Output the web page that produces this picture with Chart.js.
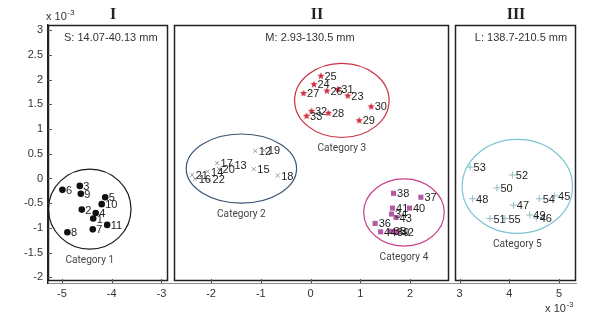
<!DOCTYPE html>
<html>
<head>
<meta charset="utf-8">
<script src="https://cdn.jsdelivr.net/npm/chart.js@4.4.1/dist/chart.umd.min.js"></script>
<style>
html, body { margin: 0; padding: 0; background: #fff; }
</style>
</head>
<body>
<canvas id="chart" width="603" height="321"></canvas>
<script>
// all values in units of 1e-3
const xTicks = [-5, -4, -3, -2, -1, 0, 1, 2, 3, 4, 5];
const yTicks = [-2, -1.5, -1, -0.5, 0, 0.5, 1, 1.5, 2, 2.5, 3];

const cat1Ids = [1, 2, 3, 4, 5, 6, 7, 8, 9, 10, 11];
const cat1X = [-4.37, -4.60, -4.64, -4.32, -4.13, -4.99, -4.38, -4.89, -4.62, -4.20, -4.09];
const cat1Y = [-0.81, -0.63, -0.15, -0.70, -0.38, -0.23, -1.03, -1.09, -0.31, -0.52, -0.94];

const cat2Ids = [12, 13, 14, 15, 16, 17, 18, 19, 20, 21, 22];
const cat2X = [-1.11, -1.60, -2.07, -1.14, -2.32, -1.88, -0.66, -0.93, -1.84, -2.38, -2.04];
const cat2Y = [0.56, 0.27, 0.14, 0.19, -0.01, 0.31, 0.06, 0.57, 0.19, 0.07, -0.02];

const cat3Ids = [23, 24, 25, 26, 27, 28, 29, 30, 31, 32, 33];
const cat3X = [0.75, 0.07, 0.21, 0.33, -0.14, 0.36, 0.98, 1.22, 0.55, 0.02, -0.08];
const cat3Y = [1.68, 1.91, 2.08, 1.78, 1.73, 1.33, 1.18, 1.46, 1.81, 1.37, 1.27];

const cat4Ids = [34, 35, 36, 37, 38, 39, 40, 41, 42, 43, 44];
const cat4X = [1.63, 1.60, 1.30, 2.22, 1.67, 1.67, 1.99, 1.65, 1.76, 1.72, 1.41];
const cat4Y = [-0.72, -1.07, -0.91, -0.38, -0.30, -1.08, -0.60, -0.60, -1.08, -0.79, -1.08];

const cat5Ids = [45, 46, 47, 48, 49, 50, 51, 52, 53, 54, 55];
const cat5X = [4.91, 4.54, 4.08, 3.26, 4.41, 3.75, 3.61, 4.06, 3.21, 4.60, 3.91];
const cat5Y = [-0.35, -0.80, -0.54, -0.41, -0.74, -0.19, -0.81, 0.07, 0.23, -0.41, -0.81];

const panelNames = ['I', 'II', 'III'];
const panelNotes = ['S: 14.07-40.13 mm', 'M: 2.93-130.5 mm', 'L: 138.7-210.5 mm'];

// layout (data units): panel boxes and group ellipses
const panelSpans = [[-5.28, -2.87], [-2.75, 2.79], [2.91, 5.34]];
const panelBottom = -2.06;
const groups = [
  { name: 'Category 1', cx: -4.44, cy: -0.62, rx: 0.83, ry: 0.81, color: '#1a1a1a' },
  { name: 'Category 2', cx: -1.39, cy: 0.20, rx: 1.11, ry: 0.70, color: '#3a5470' },
  { name: 'Category 3', cx: 0.63, cy: 1.58, rx: 0.95, ry: 0.75, color: '#c93341' },
  { name: 'Category 4', cx: 1.88, cy: -0.69, rx: 0.81, ry: 0.68, color: '#c8408a' },
  { name: 'Category 5', cx: 4.16, cy: -0.16, rx: 1.11, ry: 0.95, color: '#7cc4d2' }
];

function pts(xs, ys) {
  return xs.map((x, i) => ({ x: x, y: ys[i] }));
}

function starImage(color) {
  const c = document.createElement('canvas');
  c.width = 8; c.height = 8;
  const g = c.getContext('2d');
  g.fillStyle = color;
  g.beginPath();
  for (let i = 0; i < 10; i++) {
    const r = i % 2 === 0 ? 3.9 : 1.6;
    const a = -Math.PI / 2 + i * Math.PI / 5;
    const px = 4 + r * Math.cos(a), py = 4.3 + r * Math.sin(a);
    if (i === 0) g.moveTo(px, py); else g.lineTo(px, py);
  }
  g.closePath();
  g.fill();
  return c;
}

function superscript(ctx, x, y, align) {
  ctx.font = '8px "Liberation Sans", Arial, sans-serif';
  const supW = ctx.measureText('-3').width;
  ctx.font = '11px "Liberation Sans", Arial, sans-serif';
  const w = ctx.measureText('x 10').width;
  const left = align === 'right' ? x - w - supW : x;
  ctx.textAlign = 'left';
  ctx.textBaseline = 'middle';
  ctx.fillText('x 10', left, y);
  ctx.font = '8px "Liberation Sans", Arial, sans-serif';
  ctx.fillText('-3', left + w + 0.5, y - 4);
}

const decor = {
  id: 'decor',
  beforeDatasetsDraw(chart) {
    const ctx = chart.ctx, xs = chart.scales.x, ys = chart.scales.y, area = chart.chartArea;
    ctx.save();
    // panel boxes
    ctx.strokeStyle = '#222';
    ctx.lineWidth = 1.5;
    const yb = Math.round(ys.getPixelForValue(panelBottom));
    panelSpans.forEach(s => {
      const l = Math.round(xs.getPixelForValue(s[0]));
      const r = Math.round(xs.getPixelForValue(s[1]));
      ctx.strokeRect(l + 0.5, area.top + 0.5, r - l - 1, yb - area.top);
    });
    // ellipses and their names
    ctx.lineWidth = 1.2;
    groups.forEach(g => {
      const cx = xs.getPixelForValue(g.cx), cy = ys.getPixelForValue(g.cy);
      const rx = Math.abs(xs.getPixelForValue(g.cx + g.rx) - cx);
      const ry = Math.abs(ys.getPixelForValue(g.cy + g.ry) - cy);
      ctx.strokeStyle = g.color;
      ctx.beginPath();
      ctx.ellipse(cx, cy, rx, ry, 0, 0, Math.PI * 2);
      ctx.stroke();
      // narrow the label a little, the original uses a condensed face
      ctx.save();
      ctx.translate(cx, cy + ry + 11);
      ctx.scale(0.88, 1);
      ctx.fillStyle = '#444';
      ctx.font = '11.5px Roboto, sans-serif';
      ctx.textAlign = 'center';
      ctx.textBaseline = 'middle';
      ctx.fillText(g.name, 0, 0);
      ctx.restore();
    });
    ctx.restore();
  },
  afterDatasetsDraw(chart) {
    const ctx = chart.ctx;
    ctx.save();
    ctx.fillStyle = '#1e1e1e';
    ctx.font = '11px "Liberation Sans", Arial, sans-serif';
    ctx.textAlign = 'left';
    ctx.textBaseline = 'middle';
    chart.data.datasets.forEach((ds, di) => {
      chart.getDatasetMeta(di).data.forEach((el, i) => {
        ctx.fillText(String(ds.ids[i]), el.x + 3.5, el.y + 1);
      });
    });
    ctx.restore();
  },
  afterDraw(chart) {
    const ctx = chart.ctx, xs = chart.scales.x, ys = chart.scales.y, area = chart.chartArea;
    ctx.save();
    // tick marks pointing inward
    ctx.strokeStyle = '#555';
    ctx.lineWidth = 1;
    yTicks.forEach(v => {
      const py = Math.round(ys.getPixelForValue(v)) + 0.5;
      ctx.beginPath(); ctx.moveTo(area.left, py); ctx.lineTo(area.left + 4, py); ctx.stroke();
    });
    xTicks.forEach(v => {
      const px = Math.round(xs.getPixelForValue(v)) + 0.5;
      ctx.beginPath(); ctx.moveTo(px, area.bottom); ctx.lineTo(px, area.bottom - 4); ctx.stroke();
    });
    // panel numerals and notes
    ctx.fillStyle = '#222';
    ctx.textAlign = 'center';
    ctx.textBaseline = 'middle';
    const numX = [113, 317, 516];
    ctx.font = 'bold 16px "Liberation Serif", "Times New Roman", serif';
    panelNames.forEach((n, i) => ctx.fillText(n, numX[i], 15));
    ctx.font = '11px "Liberation Sans", Arial, sans-serif';
    ctx.fillStyle = '#333';
    ctx.textAlign = 'left';
    ctx.fillText(panelNotes[0], 64, 38);
    ctx.textAlign = 'center';
    ctx.fillText(panelNotes[1], 310, 38);
    ctx.fillText(panelNotes[2], 521, 38);
    // exponent labels
    superscript(ctx, 46, 17, 'left');
    superscript(ctx, 573, 309, 'right');
    ctx.restore();
  }
};

new Chart(document.getElementById('chart'), {
  type: 'scatter',
  data: {
    datasets: [
      { label: 'Category 1', data: pts(cat1X, cat1Y), ids: cat1Ids, pointStyle: 'circle', pointRadius: 3.3,
        backgroundColor: '#111', borderColor: '#111', borderWidth: 0 },
      { label: 'Category 2', data: pts(cat2X, cat2Y), ids: cat2Ids, pointStyle: 'crossRot', pointRadius: 2.8,
        backgroundColor: '#9a9a9a', borderColor: '#9a9a9a', borderWidth: 1 },
      { label: 'Category 3', data: pts(cat3X, cat3Y), ids: cat3Ids, pointStyle: starImage('#d12a3c'),
        backgroundColor: '#d12a3c', borderColor: '#d12a3c' },
      { label: 'Category 4', data: pts(cat4X, cat4Y), ids: cat4Ids, pointStyle: 'rect', pointRadius: 3.6,
        backgroundColor: '#b45aa5', borderColor: '#b45aa5', borderWidth: 0 },
      { label: 'Category 5', data: pts(cat5X, cat5Y), ids: cat5Ids, pointStyle: 'cross', pointRadius: 3.5,
        backgroundColor: '#8ebdc6', borderColor: '#8ebdc6', borderWidth: 1 }
    ]
  },
  options: {
    responsive: false,
    animation: false,
    devicePixelRatio: 1,
    layout: { padding: { top: 25, right: 27, left: 0, bottom: 0 } },
    plugins: { legend: { display: false }, tooltip: { enabled: false } },
    scales: {
      x: {
        type: 'linear', min: -5.28, max: 5.34,
        afterBuildTicks: s => { s.ticks = xTicks.map(v => ({ value: v })); },
        afterFit: s => { s.height = 38; },
        grid: { display: false, drawTicks: false },
        border: { display: true, color: '#888', width: 1 },
        ticks: { padding: 4, color: '#333', font: { family: '"Liberation Sans", Arial, sans-serif', size: 11 },
                 callback: v => String(v) }
      },
      y: {
        type: 'linear', min: -2.116, max: 3.107,
        afterBuildTicks: s => { s.ticks = yTicks.map(v => ({ value: v })); },
        afterFit: s => { s.width = 48; },
        grid: { display: false, drawTicks: false },
        border: { display: true, color: '#222', width: 1.5 },
        ticks: { padding: 5, color: '#333', font: { family: '"Liberation Sans", Arial, sans-serif', size: 11 },
                 callback: v => String(v) }
      }
    }
  },
  plugins: [decor]
});
</script>
</body>
</html>
